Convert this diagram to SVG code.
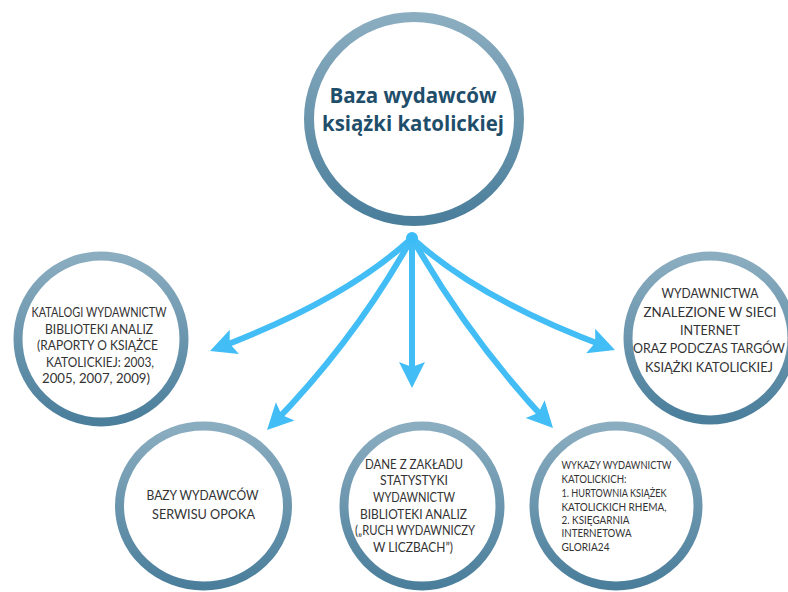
<svg xmlns="http://www.w3.org/2000/svg" width="788" height="592" viewBox="0 0 788 592">
<defs>
<linearGradient id="ring" x1="0" y1="0" x2="0" y2="1">
<stop offset="0" stop-color="#8badc0"/>
<stop offset="1" stop-color="#4a7e9b"/>
</linearGradient>
<marker id="ah" markerUnits="userSpaceOnUse" orient="auto" refX="0" refY="0" markerWidth="60" markerHeight="60" viewBox="-30 -30 60 60" overflow="visible">
<path d="M8,0 L-18,-13 L-13,0 L-18,13 Z" fill="#42bdf5"/>
</marker>
</defs>
<style>
.ring{fill:#ffffff;stroke:url(#ring);stroke-width:9}
.main{stroke-width:10}
.t{font-family:Lato,"Open Sans","Liberation Sans",sans-serif;font-size:12.5px;fill:#333333;text-anchor:middle}
.ts{font-family:Lato,"Open Sans","Liberation Sans",sans-serif;font-size:10.5px;fill:#333333}
.title{font-family:"Open Sans","Noto Sans","Liberation Sans",sans-serif;font-weight:700;font-size:21px;fill:#1f4e6b;text-anchor:middle}
.arr{fill:none;stroke:#42bdf5;stroke-width:6;marker-end:url(#ah)}
</style>
<rect width="788" height="592" fill="#ffffff"/>
<g id="main">
<ellipse class="ring main" cx="414" cy="119" rx="105" ry="102"/>
<text class="title" x="413" y="103" textLength="167" lengthAdjust="spacingAndGlyphs">Baza wydawców</text>
<text class="title" x="413" y="131" textLength="182" lengthAdjust="spacingAndGlyphs">książki katolickiej</text>
</g>
<g id="katalogi">
<ellipse class="ring" cx="101" cy="339" rx="83" ry="83"/>
<text class="t" x="99" y="317" textLength="135" lengthAdjust="spacingAndGlyphs">KATALOGI WYDAWNICTW</text>
<text class="t" x="99" y="333.5" textLength="108" lengthAdjust="spacingAndGlyphs">BIBLIOTEKI ANALIZ</text>
<text class="t" x="97.5" y="350" textLength="121" lengthAdjust="spacingAndGlyphs">(RAPORTY O KSIĄŻCE</text>
<text class="t" x="100" y="366.5" textLength="108" lengthAdjust="spacingAndGlyphs">KATOLICKIEJ: 2003,</text>
<text class="t" x="96" y="383" textLength="108" lengthAdjust="spacingAndGlyphs">2005, 2007, 2009)</text>
</g>
<g id="internet">
<ellipse class="ring" cx="710" cy="338" rx="82" ry="82"/>
<text class="t" x="710" y="298" textLength="97" lengthAdjust="spacingAndGlyphs">WYDAWNICTWA</text>
<text class="t" x="710" y="316.5" textLength="133" lengthAdjust="spacingAndGlyphs">ZNALEZIONE W SIECI</text>
<text class="t" x="710" y="335" textLength="60" lengthAdjust="spacingAndGlyphs">INTERNET</text>
<text class="t" x="709" y="353" textLength="152" lengthAdjust="spacingAndGlyphs">ORAZ PODCZAS TARGÓW</text>
<text class="t" x="709" y="371.5" textLength="128" lengthAdjust="spacingAndGlyphs">KSIĄŻKI KATOLICKIEJ</text>
</g>
<g id="opoka">
<ellipse class="ring" cx="203.5" cy="506" rx="84" ry="80"/>
<text class="t" x="202.5" y="500" textLength="112" lengthAdjust="spacingAndGlyphs">BAZY WYDAWCÓW</text>
<text class="t" x="203.5" y="518.5" textLength="103" lengthAdjust="spacingAndGlyphs">SERWISU OPOKA</text>
</g>
<g id="statystyki">
<ellipse class="ring" cx="422" cy="506" rx="78" ry="80"/>
<text class="t" x="414" y="468.5" textLength="98" lengthAdjust="spacingAndGlyphs">DANE Z ZAKŁADU</text>
<text class="t" x="414" y="485" textLength="68" lengthAdjust="spacingAndGlyphs">STATYSTYKI</text>
<text class="t" x="414" y="501.5" textLength="82" lengthAdjust="spacingAndGlyphs">WYDAWNICTW</text>
<text class="t" x="413.5" y="518.5" textLength="107" lengthAdjust="spacingAndGlyphs">BIBLIOTEKI ANALIZ</text>
<text class="t" x="415" y="535" textLength="120" lengthAdjust="spacingAndGlyphs">(„RUCH WYDAWNICZY</text>
<text class="t" x="413" y="551.5" textLength="80" lengthAdjust="spacingAndGlyphs">W LICZBACH”)</text>
</g>
<g id="wykazy">
<ellipse class="ring" cx="616" cy="506" rx="82" ry="80"/>
<text class="ts" x="561.5" y="468.5" textLength="110" lengthAdjust="spacingAndGlyphs">WYKAZY WYDAWNICTW</text>
<text class="ts" x="561.5" y="483" textLength="65" lengthAdjust="spacingAndGlyphs">KATOLICKICH:</text>
<text class="ts" x="561.5" y="497" textLength="105" lengthAdjust="spacingAndGlyphs">1. HURTOWNIA KSIĄŻEK</text>
<text class="ts" x="561.5" y="510.5" textLength="105" lengthAdjust="spacingAndGlyphs">KATOLICKICH RHEMA,</text>
<text class="ts" x="561.5" y="523.5" textLength="68" lengthAdjust="spacingAndGlyphs">2. KSIĘGARNIA</text>
<text class="ts" x="561.5" y="537" textLength="70" lengthAdjust="spacingAndGlyphs">INTERNETOWA</text>
<text class="ts" x="561.5" y="550.5" textLength="48" lengthAdjust="spacingAndGlyphs">GLORIA24</text>
</g>
<g id="connectors">
<path class="arr" d="M412,238 Q345,300 217.5,348.2"/>
<path class="arr" d="M412,238 Q355,340 272.6,424.3"/>
<path class="arr" d="M412,238 L412,380"/>
<path class="arr" d="M412,238 Q470,340 547.5,422.2"/>
<path class="arr" d="M412,238 Q480,300 607.5,347.2"/>
<circle cx="412" cy="238" r="6" fill="#3cbcf6"/>
</g>
</svg>
